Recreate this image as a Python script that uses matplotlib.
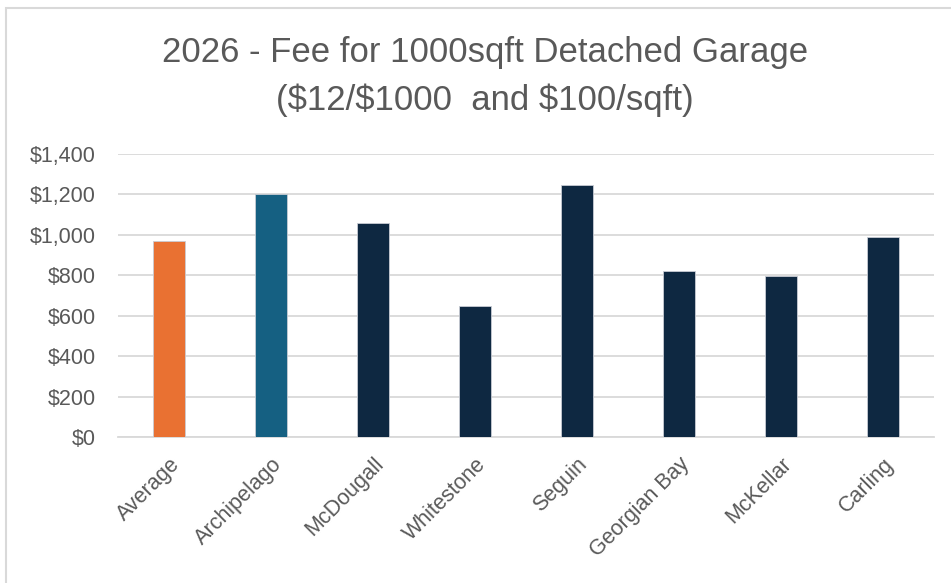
import matplotlib
matplotlib.use("Agg")
import matplotlib.pyplot as plt
from matplotlib.ticker import FuncFormatter

towns = ["Average", "Archipelago", "McDougall", "Whitestone", "Seguin",
         "Georgian Bay", "McKellar", "Carling"]
fees = [968, 1204, 1057, 646, 1248, 821, 796, 988]
colors = ["#E97132", "#156082"] + ["#0E2841"] * 6

plt.rcParams["font.family"] = ["Liberation Sans", "DejaVu Sans"]
grey = "#595959"

fig = plt.figure(figsize=(9.51, 5.83), dpi=100)
ax = fig.add_axes([0.124, 0.2504, 0.858, 0.4854])

x = range(len(towns))
ax.bar(x, fees, width=0.31, color=colors, edgecolor="#c8ccd4", linewidth=0.6, zorder=3)

ax.set_xlim(-0.5, len(towns) - 0.5)
ax.set_ylim(0, 1400)
ax.set_yticks(range(0, 1401, 200))
ax.yaxis.set_major_formatter(FuncFormatter(lambda v, _: f"${v:,.0f}"))
ax.grid(axis="y", color="#d9d9d9", lw=1.3, zorder=0)
for s in ["top", "right", "left"]:
    ax.spines[s].set_visible(False)
ax.spines["bottom"].set_color("#d9d9d9")
ax.spines["bottom"].set_linewidth(1.3)
ax.tick_params(axis="both", length=0, colors=grey, labelsize=15.5)
ax.tick_params(axis="y", pad=16)
ax.set_xticks(list(x))
ax.set_xticklabels(towns, rotation=45, ha="right", rotation_mode="anchor")
ax.tick_params(axis="x", pad=12)

fig.text(0.51, 0.91, "2026 - Fee for 1000sqft Detached Garage", ha="center",
         va="center", fontsize=25, color=grey)
fig.text(0.51, 0.828, "($12/$1000  and $100/sqft)", ha="center",
         va="center", fontsize=25, color=grey)

# chart border (Excel frame)
fig.add_artist(plt.Rectangle((6 / 951, -0.1), 1.2, 1 - 8 / 583 + 0.1,
                             transform=fig.transFigure, fill=False,
                             edgecolor="#d9d9d9", lw=1.5))

fig.savefig("out.png", dpi=100)
